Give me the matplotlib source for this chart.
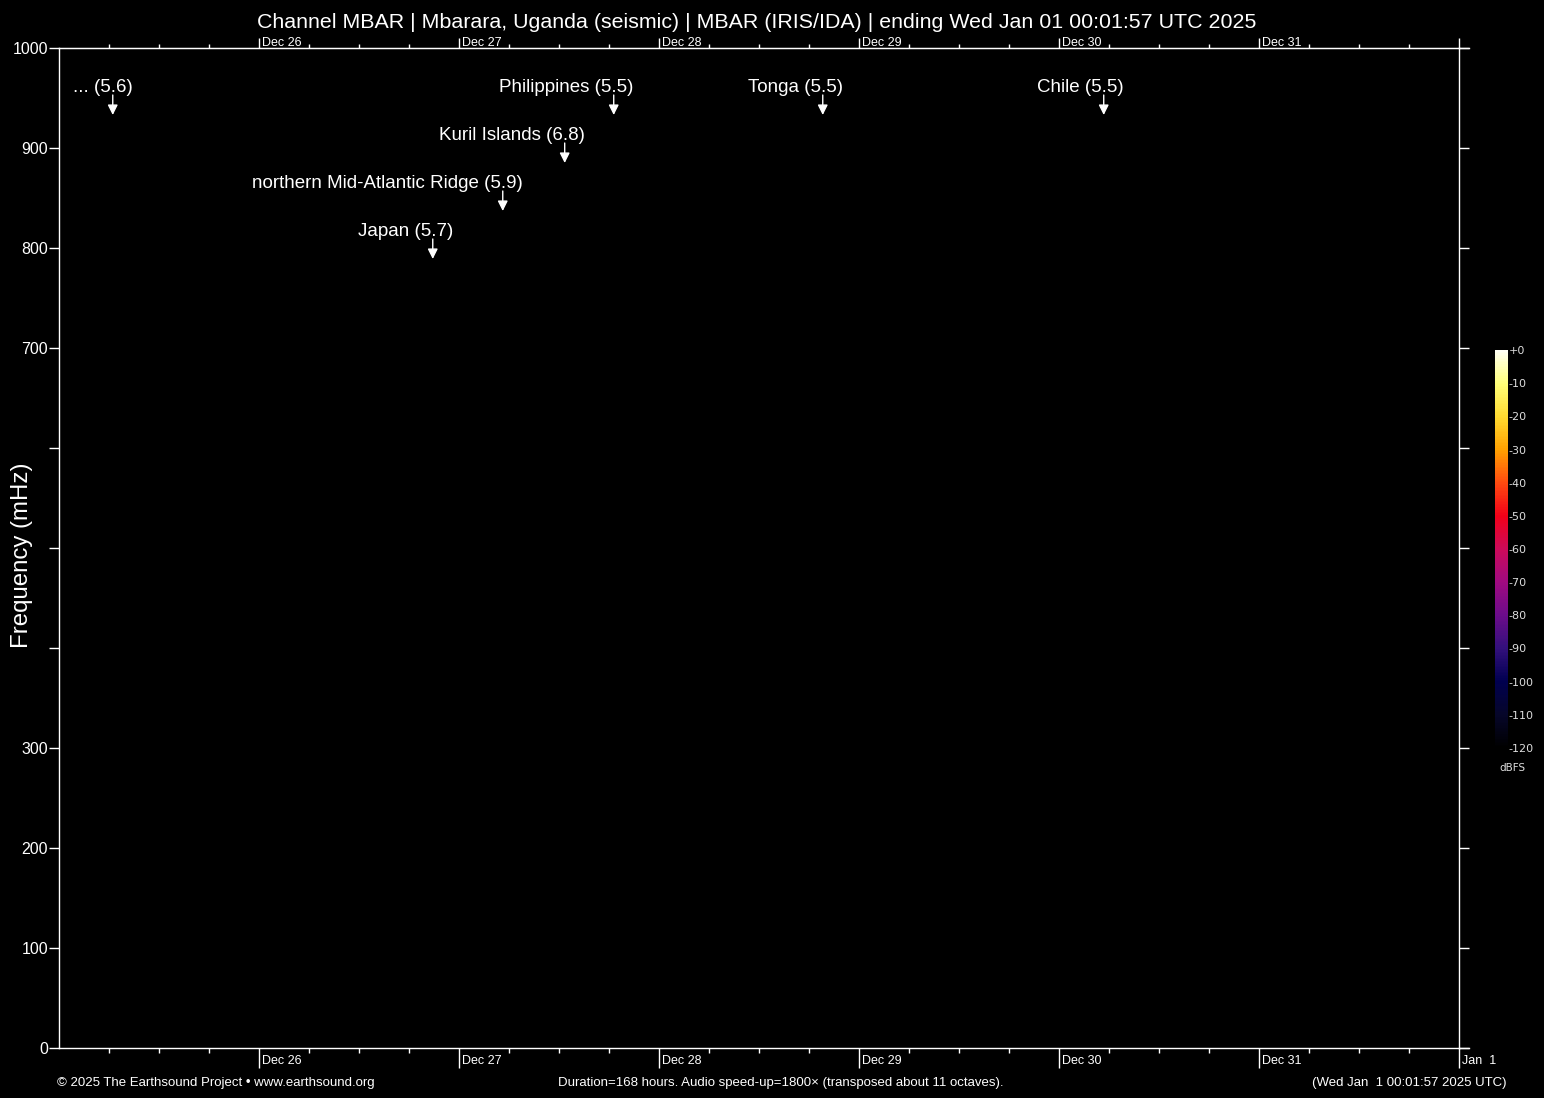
import matplotlib
matplotlib.use('Agg')
import matplotlib.pyplot as plt
import matplotlib.dates as mdates
from matplotlib.colors import LinearSegmentedColormap, Normalize
from matplotlib.colorbar import ColorbarBase
from datetime import datetime, timedelta

plt.rcParams['font.family'] = ['Liberation Sans', 'DejaVu Sans']

# Zeitfenster (168 Stunden)
t_end = datetime(2025, 1, 1, 0, 1, 57)
t_start = t_end - timedelta(hours=168)

# Beben: Name, Magnitude, Zeit, Zeile
event_names = ['...', 'Japan', 'northern Mid-Atlantic Ridge', 'Kuril Islands',
               'Philippines', 'Tonga', 'Chile']
event_mags = [5.6, 5.7, 5.9, 6.8, 5.5, 5.5, 5.5]
event_times = [datetime(2024, 12, 25, 6, 29), datetime(2024, 12, 26, 20, 53),
               datetime(2024, 12, 27, 5, 17), datetime(2024, 12, 27, 12, 43),
               datetime(2024, 12, 27, 18, 36), datetime(2024, 12, 28, 19, 41),
               datetime(2024, 12, 30, 5, 24)]
event_rows = [0, 3, 2, 1, 0, 0, 0]

# Achsenbeschriftung
day_ticks = [datetime(2024, 12, 26) + timedelta(days=i) for i in range(7)]
bottom_labels = ['Dec 26', 'Dec 27', 'Dec 28', 'Dec 29', 'Dec 30', 'Dec 31', 'Jan  1']
top_labels = ['Dec 26', 'Dec 27', 'Dec 28', 'Dec 29', 'Dec 30', 'Dec 31']
freq_ticks = [0, 100, 200, 300, 400, 500, 600, 700, 800, 900, 1000]
freq_labels = ['0', '100', '200', '300', '', '', '', '700', '800', '900', '1000']
db_ticks = [0, -10, -20, -30, -40, -50, -60, -70, -80, -90, -100, -110, -120]
db_colors = ['#000000', '#06062a', '#000050', '#33107c', '#6c0c8a', '#a00a80',
             '#cc0a5a', '#f20018', '#ff4a10', '#ffa000', '#ffda30', '#ffff78', '#fffff4']

fig = plt.figure(figsize=(15.44, 10.98), dpi=100, facecolor='black')
ax = fig.add_axes([59 / 1544, 1 - 1048 / 1098, 1400 / 1544, 1000 / 1098])
ax.set_facecolor('black')

x0, x1 = mdates.date2num(t_start), mdates.date2num(t_end)
ax.set_xlim(x0, x1)
ax.set_ylim(0, 1000)

for s in ax.spines.values():
    s.set_color('white')
    s.set_linewidth(1)

# y-Achse
ax.set_yticks(freq_ticks)
ax.set_yticklabels(freq_labels)
ax.tick_params(axis='y', left=True, right=True, direction='out', length=7.5,
               width=1, color='white', labelcolor='white', labelsize=11.5, pad=0.5)

# x-Achse unten
ax.set_xticks(mdates.date2num(day_ticks))
ax.xaxis.set_minor_locator(mdates.HourLocator(byhour=[0, 6, 12, 18]))
ax.set_xticklabels([])
ax.tick_params(axis='x', which='major', direction='out', length=14.4, width=1, color='white')
ax.tick_params(axis='x', which='minor', direction='out', length=3.6, width=1, color='white')

# x-Achse oben
top = ax.secondary_xaxis('top')
top.set_xticks(mdates.date2num(day_ticks))
top.xaxis.set_minor_locator(mdates.HourLocator(byhour=[0, 6, 12, 18]))
top.set_xticklabels([])
top.spines['top'].set_color('white')
top.tick_params(axis='x', which='major', direction='out', length=7, width=1, color='white')
top.tick_params(axis='x', which='minor', direction='out', length=3, width=1, color='white')

for d, lab in zip(day_ticks, bottom_labels):
    ax.annotate(lab, xy=(mdates.date2num(d), 0), xycoords=('data', 'axes fraction'),
                xytext=(3, -13.5), textcoords='offset pixels', ha='left', va='center',
                color='white', fontsize=9, annotation_clip=False)
for d, lab in zip(day_ticks, top_labels):
    ax.annotate(lab, xy=(mdates.date2num(d), 1), xycoords=('data', 'axes fraction'),
                xytext=(3, 5.5), textcoords='offset pixels', ha='left', va='center',
                color='white', fontsize=9, annotation_clip=False)

# Linien rechts etwas verlängert
for yy in (0, 1):
    ax.plot([1, 1.00714], [yy, yy], color='white', lw=1, transform=ax.transAxes, clip_on=False)

# Beben-Markierungen
for name, mag, t, row in zip(event_names, event_mags, event_times, event_rows):
    xt = mdates.date2num(t)
    y_txt = 962 - 48 * row
    ax.annotate(f'{name} ({mag})', xy=(xt, y_txt), xytext=(20, -2),
                textcoords='offset pixels', ha='right', va='center',
                color='white', fontsize=13.5)
    ax.annotate('', xy=(xt, y_txt - 29), xytext=(xt, y_txt - 9),
                arrowprops=dict(arrowstyle='-|>,head_length=0.6,head_width=0.3',
                                color='white', lw=1, shrinkA=0, shrinkB=0))

# Texte
fig.text(757 / 1544, 1 - 22 / 1098,
         'Channel MBAR | Mbarara, Uganda (seismic) | MBAR (IRIS/IDA) | ending Wed Jan 01 00:01:57 UTC 2025',
         color='white', fontsize=15.4, ha='center', va='center')
fig.text(22 / 1544, 1 - 555 / 1098, 'Frequency (mHz)', color='white', fontsize=17.3,
         rotation=90, ha='center', va='center')
fig.text(57 / 1544, 1 - 1083 / 1098, '© 2025 The Earthsound Project • www.earthsound.org',
         color='white', fontsize=9.5, ha='left', va='center')
fig.text(781 / 1544, 1 - 1083 / 1098,
         'Duration=168 hours. Audio speed-up=1800× (transposed about 11 octaves).',
         color='white', fontsize=9.5, ha='center', va='center')
fig.text(1506 / 1544, 1 - 1083 / 1098, '(Wed Jan  1 00:01:57 2025 UTC)',
         color='white', fontsize=9.5, ha='right', va='center')

# Farbskala
cax = fig.add_axes([1495 / 1544, 1 - 748 / 1098, 13 / 1544, 398 / 1098])
cmap = LinearSegmentedColormap.from_list('eq', db_colors)
cb = ColorbarBase(cax, cmap=cmap, norm=Normalize(-120, 0), ticks=db_ticks)
cb.outline.set_visible(False)
cb.set_ticklabels(['+0' if v == 0 else str(v) for v in db_ticks])
cax.tick_params(length=0, pad=0.5, labelsize=8, labelcolor='#dddddd',
                labelfontfamily='DejaVu Sans')
fig.text(1512 / 1544, 1 - 768 / 1098, 'dBFS', color='#dddddd', fontsize=7.5,
         ha='center', va='center', family='DejaVu Sans')

fig.savefig('out.png', dpi=100, facecolor='black')
